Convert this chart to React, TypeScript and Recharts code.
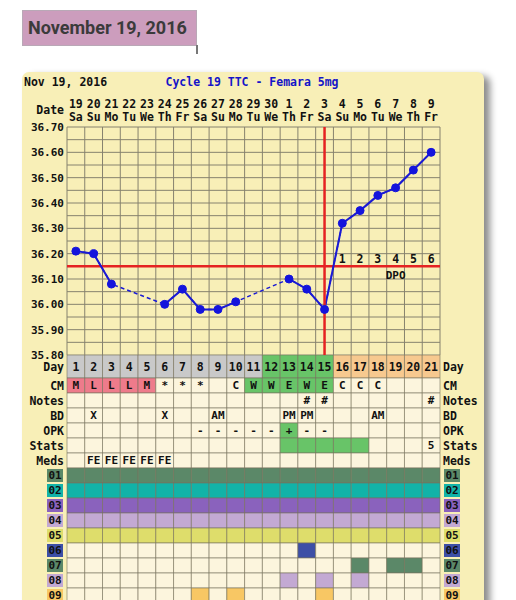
import React from "react";
import {
  ComposedChart,
  Line,
  XAxis,
  YAxis,
  CartesianGrid,
  ReferenceLine,
  ReferenceDot,
  ReferenceArea,
} from "recharts";

const MONO = '"DejaVu Sans Mono", monospace';

// cycle dates, Nov 19 - Dec 9 2016
const dates = ["19", "20", "21", "22", "23", "24", "25", "26", "27", "28", "29", "30", "1", "2", "3", "4", "5", "6", "7", "8", "9"];
const weekdays = ["Sa", "Su", "Mo", "Tu", "We", "Th", "Fr", "Sa", "Su", "Mo", "Tu", "We", "Th", "Fr", "Sa", "Su", "Mo", "Tu", "We", "Th", "Fr"];

// BBT readings (null = no reading)
const temps: (number | null)[] = [36.21, 36.2, 36.08, null, null, 36.0, 36.06, 35.98, 35.98, 36.01, null, null, 36.1, 36.06, 35.98, 36.32, 36.37, 36.43, 36.46, 36.53, 36.6];
const tempTicks = [35.8, 35.9, 36.0, 36.1, 36.2, 36.3, 36.4, 36.5, 36.6, 36.7];
const coverline = 36.15;
const ovulationDay = 15;
const dpoNumbers = ["1", "2", "3", "4", "5", "6"];
const dpoStart = 16;

// table rows under the chart
const cycleDays = ["1", "2", "3", "4", "5", "6", "7", "8", "9", "10", "11", "12", "13", "14", "15", "16", "17", "18", "19", "20", "21"];
const dayPhase = ["pre", "pre", "pre", "pre", "pre", "pre", "pre", "pre", "pre", "pre", "pre", "fertile", "fertile", "fertile", "fertile", "post", "post", "post", "post", "post", "post"];
const cm = ["M", "L", "L", "L", "M", "*", "*", "*", "", "C", "W", "W", "E", "W", "E", "C", "C", "C", "", "", ""];
const cmShade = ["p", "p", "p", "p", "p", "", "", "", "", "", "g", "g", "g", "g", "g", "", "", "", "", "", ""];
const notes = ["", "", "", "", "", "", "", "", "", "", "", "", "", "#", "#", "", "", "", "", "", "#"];
const bd = ["", "X", "", "", "", "X", "", "", "AM", "", "", "", "PM", "PM", "", "", "", "AM", "", "", ""];
const opk = ["", "", "", "", "", "", "", "-", "-", "-", "-", "-", "+", "-", "-", "", "", "", "", "", ""];
const stats = ["", "", "", "", "", "", "", "", "", "", "", "", "", "", "", "", "", "", "", "", "5"];
const statsShade = ["", "", "", "", "", "", "", "", "", "", "", "", "g", "g", "g", "g", "g", "", "", "", ""];
const meds = ["", "FE", "FE", "FE", "FE", "FE", "", "", "", "", "", "", "", "", "", "", "", "", "", "", ""];

const medTags = ["01", "02", "03", "04", "05", "06", "07", "08", "09"];
const medColors = ["#5b8868", "#12b3a8", "#8a62bd", "#c3a9d3", "#dedd6b", "#3d4fa6", "#5b8868", "#c3a9d3", "#f8c764"];
const allDays = cycleDays.map((_, i) => i + 1);
const medDays = [allDays, allDays, allDays, allDays, allDays, [14], [17, 19, 20], [13, 15, 17], [8, 10, 15]];

const textRows = ["Day", "CM", "Notes", "BD", "OPK", "Stats", "Meds"];

const BG = "#f8efb7";
const CELL = "#fcf5dd";
const GREEN = "#68c468";
const phaseColors: Record<string, string> = { pre: "#c9c9c9", fertile: GREEN, post: "#f7c98f" };

// row layout of the table (units = px of the table chart)
const DAY_ROW = 23;
const ROW = 15;
const rowNames = [...textRows, ...medTags];
const rowTops = rowNames.map((_, i) => (i === 0 ? 0 : DAY_ROW + (i - 1) * ROW));
const rowBottoms = rowNames.map((_, i) => (i === 0 ? DAY_ROW : DAY_ROW + i * ROW));
const rowCenters = rowNames.map((_, i) => (rowTops[i] + rowBottoms[i]) / 2);
const TABLE_H = DAY_ROW + (rowNames.length - 1) * ROW;

const chartData = temps.map((t, i) => ({ day: i + 1, temp: t }));
const tableData = allDays.map((d) => ({ day: d, anchor: TABLE_H / 2 }));
const colEdges = [...allDays.map((d) => d - 0.5), 21.5];
const halfSteps = Array.from({ length: 19 }, (_, i) => +(35.8 + i * 0.05).toFixed(2));

const txt = { fontFamily: MONO, fontWeight: 700, fontSize: 11, fill: "#111" };

const DateTick = (props: any) => {
  const { x, y, payload } = props;
  const i = payload.value - 1;
  return (
    <g>
      <text x={x} y={y - 19} textAnchor="middle" {...txt} fontSize={11.5}>
        {dates[i]}
      </text>
      <text x={x} y={y - 6} textAnchor="middle" {...txt} fontSize={11.5}>
        {weekdays[i]}
      </text>
    </g>
  );
};

const TempTick = (props: any) => {
  const { x, y, payload, side } = props;
  return (
    <text x={x} y={y} dy="0.36em" textAnchor={side === "left" ? "end" : "start"} {...txt}>
      {Number(payload.value).toFixed(2)}
    </text>
  );
};

const RowTick = (props: any) => {
  const { x, y, payload, side } = props;
  const idx = rowCenters.indexOf(payload.value);
  const name = rowNames[idx];
  const tagIdx = medTags.indexOf(name);
  if (tagIdx >= 0) {
    const bx = side === "left" ? x - 17 : x + 1;
    return (
      <g>
        <rect x={bx} y={y - 6.5} width={16} height={13} fill={medColors[tagIdx]} />
        <text x={bx + 8} y={y} dy="0.36em" textAnchor="middle" {...txt}>
          {name}
        </text>
      </g>
    );
  }
  return (
    <text x={x} y={y} dy="0.36em" textAnchor={side === "left" ? "end" : "start"} {...txt} fontSize={11.5}>
      {name}
    </text>
  );
};

function cellFor(row: string, c: number): { fill: string; text: string } {
  const i = c - 1;
  switch (row) {
    case "Day":
      return { fill: phaseColors[dayPhase[i]], text: cycleDays[i] };
    case "CM":
      return { fill: cmShade[i] === "p" ? "#ee7b8b" : cmShade[i] === "g" ? GREEN : CELL, text: cm[i] };
    case "Notes":
      return { fill: CELL, text: notes[i] };
    case "BD":
      return { fill: CELL, text: bd[i] };
    case "OPK":
      return { fill: opk[i] === "+" ? GREEN : CELL, text: opk[i] };
    case "Stats":
      return { fill: statsShade[i] ? GREEN : CELL, text: stats[i] };
    case "Meds":
      return { fill: CELL, text: meds[i] };
    default: {
      const m = medTags.indexOf(row);
      return { fill: medDays[m].includes(c) ? medColors[m] : CELL, text: "" };
    }
  }
}

export default function App() {
  const cells: React.ReactNode[] = [];
  rowNames.forEach((row, r) => {
    allDays.forEach((c) => {
      const { fill, text } = cellFor(row, c);
      cells.push(
        <ReferenceArea
          key={`${row}-${c}`}
          yAxisId="l"
          x1={c - 0.5}
          x2={c + 0.5}
          y1={rowTops[r]}
          y2={rowBottoms[r]}
          fill={fill}
          fillOpacity={1}
          stroke="#77725e"
          strokeOpacity={0.6}
          strokeWidth={1}
          ifOverflow="visible"
          label={
            text
              ? { value: text, position: "center", ...txt, fontSize: row === "Day" ? 11.5 : 11 }
              : undefined
          }
        />
      );
    });
  });

  return (
    <div style={{ position: "absolute", left: 0, top: 0, width: 516, height: 600, overflow: "hidden", background: "#fff" }}>
      {/* date heading */}
      <div
        style={{
          position: "absolute",
          left: 22,
          top: 10,
          width: 168,
          height: 34,
          background: "#cc9dbd",
          border: "1px solid #b9a8b6",
          fontFamily: "Roboto, sans-serif",
          fontWeight: 700,
          fontSize: 18,
          color: "#3b3b3b",
          lineHeight: "34px",
          paddingLeft: 5,
          boxSizing: "content-box",
        }}
      >
        November 19, 2016
      </div>
      <div style={{ position: "absolute", left: 196, top: 45, width: 2, height: 9, background: "#777" }} />

      {/* chart panel */}
      <div
        style={{
          position: "absolute",
          left: 22,
          top: 72,
          width: 462,
          height: 560,
          background: BG,
          borderRadius: 7,
          boxShadow: "6px 4px 7px rgba(0,0,0,0.45)",
        }}
      />
      <div style={{ position: "absolute", left: 24, top: 75, fontFamily: MONO, fontWeight: 700, fontSize: 11.5, color: "#111" }}>
        Nov 19, 2016
      </div>
      <div
        style={{
          position: "absolute",
          left: 100,
          width: 304,
          top: 75,
          textAlign: "center",
          fontFamily: MONO,
          fontWeight: 700,
          fontSize: 11.5,
          color: "#1414c8",
        }}
      >
        Cycle 19 TTC - Femara 5mg
      </div>
      <div style={{ position: "absolute", right: 516 - 64, top: 103, fontFamily: MONO, fontWeight: 700, fontSize: 11.5, color: "#111" }}>
        Date
      </div>

      {/* temperature chart */}
      <div style={{ position: "absolute", left: 0, top: 0 }}>
        <ComposedChart width={516} height={360} data={chartData} margin={{ top: 97, right: 36, bottom: 5, left: 27 }}>
          <CartesianGrid
            yAxisId="l"
            stroke="#86826e"
            strokeWidth={1}
            verticalValues={colEdges}
            horizontalValues={halfSteps}
          />
          <XAxis
            dataKey="day"
            type="number"
            orientation="top"
            domain={[0.5, 21.5]}
            ticks={allDays}
            interval={0}
            height={30}
            axisLine={false}
            tickLine={false}
            tickSize={0}
            tickMargin={0}
            tick={<DateTick />}
          />
          <YAxis
            yAxisId="l"
            domain={[35.8, 36.7]}
            ticks={tempTicks}
            interval={0}
            width={40}
            axisLine={false}
            tickLine={false}
            tickSize={0}
            tickMargin={3}
            tick={<TempTick side="left" />}
          />
          <YAxis
            yAxisId="r"
            orientation="right"
            domain={[35.8, 36.7]}
            ticks={tempTicks}
            interval={0}
            width={40}
            axisLine={false}
            tickLine={false}
            tickSize={0}
            tickMargin={3}
            tick={<TempTick side="right" />}
          />
          <ReferenceLine yAxisId="l" y={coverline} stroke="#e52222" strokeWidth={2.5} />
          {dpoNumbers.map((n, i) => (
            <ReferenceDot
              key={n}
              yAxisId="l"
              x={dpoStart + i}
              y={36.18}
              r={0}
              fill="none"
              stroke="none"
              label={{ value: n, position: "center", ...txt, fontSize: 11.5 }}
            />
          ))}
          <ReferenceDot
            yAxisId="l"
            x={19}
            y={36.115}
            r={0}
            fill="none"
            stroke="none"
            label={{ value: "DPO", position: "center", ...txt }}
          />
          <Line
            yAxisId="l"
            dataKey="temp"
            connectNulls
            stroke="#1a1ad4"
            strokeWidth={1.5}
            strokeDasharray="4 3"
            dot={false}
            activeDot={false}
            isAnimationActive={false}
          />
          <Line
            yAxisId="l"
            dataKey="temp"
            stroke="#1a1ad4"
            strokeWidth={2}
            dot={{ r: 4, fill: "#1414dc", stroke: "#1414dc", strokeWidth: 1 }}
            activeDot={false}
            isAnimationActive={false}
          />
          <ReferenceLine yAxisId="l" x={ovulationDay} stroke="#e52222" strokeWidth={2.5} />
        </ComposedChart>
      </div>

      {/* chart table */}
      <div style={{ position: "absolute", left: 0, top: 355 }}>
        <ComposedChart width={516} height={TABLE_H} data={tableData} margin={{ top: 0, right: 36, bottom: 0, left: 27 }}>
          <XAxis dataKey="day" type="number" domain={[0.5, 21.5]} hide />
          <YAxis
            yAxisId="l"
            type="number"
            domain={[0, TABLE_H]}
            reversed
            ticks={rowCenters}
            interval={0}
            width={40}
            axisLine={false}
            tickLine={false}
            tickSize={0}
            tickMargin={3}
            tick={<RowTick side="left" />}
          />
          <YAxis
            yAxisId="r"
            orientation="right"
            type="number"
            domain={[0, TABLE_H]}
            reversed
            ticks={rowCenters}
            interval={0}
            width={40}
            axisLine={false}
            tickLine={false}
            tickSize={0}
            tickMargin={3}
            tick={<RowTick side="right" />}
          />
          <Line yAxisId="l" dataKey="anchor" stroke="none" dot={false} activeDot={false} isAnimationActive={false} />
          <Line yAxisId="r" dataKey="anchor" stroke="none" dot={false} activeDot={false} isAnimationActive={false} />
          {cells}
        </ComposedChart>
      </div>
    </div>
  );
}
